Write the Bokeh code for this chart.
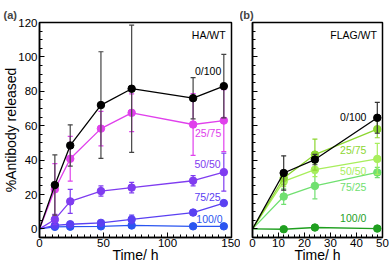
from bokeh.plotting import figure
from bokeh.layouts import row
from bokeh.models import SingleIntervalTicker, Range1d, CustomJSTickFormatter
from bokeh.embed import file_html
from bokeh.resources import INLINE
from bokeh.core.properties import value

FONT = "Liberation Sans"

# ---- Panel (a): HA/WT ----
t_a = [0, 12, 24, 48, 72, 120, 144]
a_0_100 = [0, 25.5, 48.5, 72, 81.5, 76, 83]
a_0_100_err = [0, 17.5, 12, 31, 37, 12, 18.5]
a_25_75 = [0, 23, 40.8, 58.3, 67.5, 60.7, 63]
a_25_75_err = [0, 15, 13, 10, 11, 18, 18]
a_50_50 = [0, 5.5, 16, 22, 24, 28, 33]
a_50_50_err = [0, 3, 7, 3, 3, 3, 11]
a_75_25 = [0, 2, 2.7, 3.5, 5.5, 9.5, 15]
a_75_25_err = [0, 1, 1.5, 1.5, 2.5, 1.5, 1]
a_100_0 = [0, 1.2, 1.3, 1.5, 2, 1.5, 1.5]
a_100_0_err = [0, 0.8, 1, 1, 1, 0.8, 0.8]

# ---- Panel (b): FLAG/WT ----
t_b = [0, 12, 24, 48]
b_0_100 = [0, 32.5, 40.3, 64.6]
b_0_100_err = [0, 10, 3, 9]
b_25_75 = [0, 29.6, 43.2, 58]
b_25_75_err = [0, 4, 9, 5]
b_50_50 = [0, 27.6, 34.4, 40.7]
b_50_50_err = [0, 3, 4, 9]
b_75_25 = [0, 18.8, 25, 32.8]
b_75_25_err = [0, 4.5, 7.5, 3]
b_100_0 = [0, -0.2, 0.8, 0.2]
b_100_0_err = [0, 0.5, 0.5, 0.5]

ratio_labels = ["0/100", "25/75", "50/50", "75/25", "100/0"]


def style(p, xint, xminor, show_ylabels):
    p.xaxis.ticker = SingleIntervalTicker(interval=xint, num_minor_ticks=xminor)
    p.yaxis.ticker = SingleIntervalTicker(interval=20, num_minor_ticks=4)
    p.xgrid.visible = False
    p.ygrid.visible = False
    p.outline_line_color = "black"
    p.outline_line_width = 1.5
    p.background_fill_color = "white"
    p.border_fill_color = "white"
    for ax in (p.xaxis[0], p.yaxis[0]):
        ax.axis_line_color = "black"
        ax.axis_line_width = 1.5
        ax.major_tick_in = 5
        ax.major_tick_out = 0
        ax.minor_tick_in = 3
        ax.minor_tick_out = 0
        ax.major_tick_line_color = "black"
        ax.minor_tick_line_color = "black"
        ax.major_label_text_font = FONT
        ax.major_label_text_font_size = "11.5px"
        ax.major_label_text_color = "black"
        ax.axis_label_text_font = FONT
        ax.axis_label_text_font_size = "14px"
        ax.axis_label_text_font_style = "normal"
        ax.axis_label_text_color = "black"
    p.xaxis.axis_label = "Time/ h"
    p.xaxis.major_label_standoff = 1
    p.xaxis.axis_label_standoff = -3
    if show_ylabels:
        p.yaxis.axis_label = "%Antibody released"
        p.yaxis.axis_label_standoff = -4
        p.yaxis.major_label_standoff = 2
    else:
        p.yaxis.formatter = CustomJSTickFormatter(code="return ''")
        p.yaxis.major_label_standoff = 0
    p.title.text_font = FONT
    p.title.text_font_size = "11px"
    p.title.text_font_style = "bold"
    p.title.align = "left"
    p.title.standoff = 3


def series(p, t, y, err, color, bar_color, size=7.5):
    p.line(t, y, line_color=color, line_width=1.3)
    tt = [ti for ti, e in zip(t, err) if e > 0]
    lo = [yi - e for yi, e in zip(y, err) if e > 0]
    hi = [yi + e for yi, e in zip(y, err) if e > 0]
    p.segment(x0=tt, y0=lo, x1=tt, y1=hi, line_color=bar_color, line_width=1.2)
    p.scatter(tt, lo, marker="dash", size=5, line_color=bar_color, line_width=1.2)
    p.scatter(tt, hi, marker="dash", size=5, line_color=bar_color, line_width=1.2)
    p.scatter(t[1:], y[1:], size=size, fill_color=color, line_color=color)


# Panel (a)
pa = figure(width=240, height=269, x_range=Range1d(0, 150), y_range=Range1d(-5, 120),
            output_backend="svg", toolbar_location=None, title="(a)",
            min_border_left=37, min_border_right=9, min_border_top=22, min_border_bottom=32)
style(pa, 50, 10, True)
pa.title.offset = -36

cols_a = ["black", "#e040ec", "#7f3cf0", "#5a40f2", "#2a55f0"]
bars_a = ["#444444", "#e040ec", "#7f3cf0", "#5a40f2", "#2a55f0"]
data_a = [(a_100_0, a_100_0_err, 4), (a_75_25, a_75_25_err, 3), (a_50_50, a_50_50_err, 2),
          (a_25_75, a_25_75_err, 1), (a_0_100, a_0_100_err, 0)]
for y, e, i in data_a:
    series(pa, t_a, y, e, cols_a[i], bars_a[i])

pa.text(x=[119], y=[113], text=["HA/WT"], text_font=value(FONT), text_font_size=value("10.5px"),
        text_color="black", text_align="left", text_baseline="middle")
pa.text(x=[121.5, 121.5, 121, 121, 122.5], y=[91.8, 55.8, 37.7, 18.8, 5.8], text=ratio_labels,
        text_font=value(FONT), text_font_size=value("10.5px"), text_color=cols_a,
        text_align="left", text_baseline="middle")

# Panel (b)
pb = figure(width=150, height=269, x_range=Range1d(0, 50), y_range=Range1d(-5, 120),
            output_backend="svg", toolbar_location=None, title="(b)",
            min_border_left=12, min_border_right=8, min_border_top=22, min_border_bottom=32)
style(pb, 10, 5, False)
pb.title.offset = -13

cols_b = ["black", "#8cd630", "#a8ee5c", "#70e070", "#1f9f1f"]
bars_b = ["#333333", "#8cd630", "#a8ee5c", "#70e070", "#1f9f1f"]
data_b = [(b_100_0, b_100_0_err, 4), (b_75_25, b_75_25_err, 3), (b_50_50, b_50_50_err, 2),
          (b_25_75, b_25_75_err, 1), (b_0_100, b_0_100_err, 0)]
for y, e, i in data_b:
    series(pb, t_b, y, e, cols_b[i], bars_b[i])

pb.text(x=[29.9], y=[113], text=["FLAG/WT"], text_font=value(FONT), text_font_size=value("10.5px"),
        text_color="black", text_align="left", text_baseline="middle")
pb.text(x=[33.7, 33.7, 33.7, 33.7, 33.7], y=[64.8, 46, 33.4, 24.3, 6.2], text=ratio_labels,
        text_font=value(FONT), text_font_size=value("10.5px"), text_color=cols_b,
        text_align="left", text_baseline="middle")

layout = row(pa, pb)
open("out.html", "w").write(file_html(layout, INLINE))
